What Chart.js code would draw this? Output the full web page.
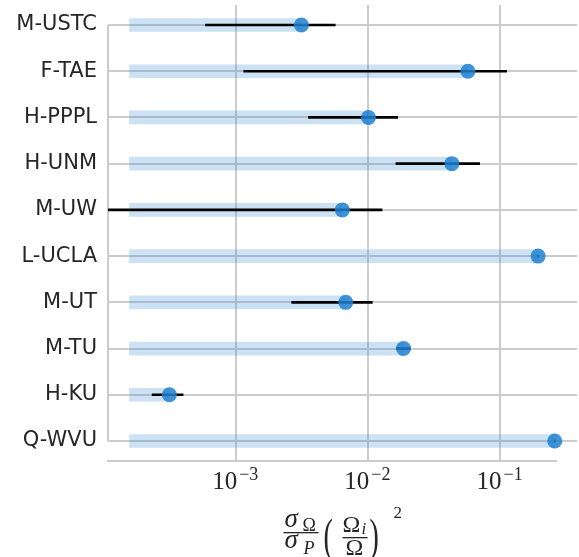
<!DOCTYPE html>
<html>
<head>
<meta charset="utf-8">
<script src="https://cdn.jsdelivr.net/npm/chart.js@4.4.0/dist/chart.umd.min.js"></script>
<style>
    body { margin: 0; background: #fff; }
    #wrap { width: 579px; height: 557px; }
</style>
</head>
<body>
<div id="wrap"><canvas id="chart" width="579" height="557"></canvas></div>
<script>
// Data
const categories = ['M-USTC', 'F-TAE', 'H-PPPL', 'H-UNM', 'M-UW', 'L-UCLA', 'M-UT', 'M-TU', 'H-KU', 'Q-WVU'];
const values  = [3.14e-3, 0.0571, 0.0101, 0.0432, 6.4e-3, 0.194, 6.8e-3, 0.0186, 3.15e-4, 0.259];
const errLow  = [5.9e-4, 1.15e-3, 3.55e-3, 0.0163, 1e-5, 0.192, 2.65e-3, 0.0164, 2.33e-4, 0.257];
const errHigh = [5.66e-3, 0.112, 0.0168, 0.070, 0.0128, 0.196, 0.0108, 0.0209, 4.0e-4, 0.261];
const barBase = 1.57e-4;
const xTicks = [1e-3, 1e-2, 1e-1];
const xTickExponents = ['\u22123', '\u22122', '\u22121'];

const TEXT = '#262626';
const GRID = '#cccccc';

// Draws the trimmed seaborn-style spines
const spinePlugin = {
    id: 'spines',
    beforeDatasetsDraw(chart) {
        const { ctx, scales: { x, y }, chartArea } = chart;
        ctx.save();
        ctx.strokeStyle = GRID;
        ctx.lineWidth = 2;
        ctx.beginPath();
        ctx.moveTo(chartArea.left, y.getPixelForValue(0));
        ctx.lineTo(chartArea.left, y.getPixelForValue(categories.length - 1));
        ctx.moveTo(x.getPixelForValue(1.08e-4) - 1, chartArea.bottom);
        ctx.lineTo(x.getPixelForValue(0.27), chartArea.bottom);
        ctx.stroke();
        ctx.restore();
    }
};

// Tick labels 10^n and the math axis title
const labelPlugin = {
    id: 'mathLabels',
    afterDraw(chart) {
        const { ctx, scales: { x }, chartArea } = chart;
        ctx.save();
        ctx.fillStyle = TEXT;
        ctx.textBaseline = 'alphabetic';
        ctx.textAlign = 'left';

        xTicks.forEach((t, i) => {
            const px = x.getPixelForValue(t);
            ctx.font = '25px "Liberation Serif"';
            const wBase = ctx.measureText('10').width;
            ctx.font = '18px "Liberation Serif"';
            const wExp = ctx.measureText(xTickExponents[i]).width + 3;
            const left = px - (wBase + wExp) / 2;
            ctx.font = '25px "Liberation Serif"';
            ctx.fillText('10', left, 489);
            ctx.font = '18px "Liberation Serif"';
            ctx.fillText(xTickExponents[i], left + wBase + 2, 480);
        });

        // sigma_Omega / sigma_P (Omega_i / Omega)^2
        const cx = (chartArea.left + chartArea.right) / 2;
        const x0 = cx - 59;
        ctx.font = 'italic 27px "Liberation Serif"';
        ctx.fillText('\u03c3', x0 + 1, 527);
        ctx.fillText('\u03c3', x0 + 1, 548);
        ctx.font = '18px "Liberation Serif"';
        ctx.fillText('\u03a9', x0 + 19, 531);
        ctx.font = 'italic 18px "Liberation Serif"';
        ctx.fillText('P', x0 + 20, 554);
        ctx.fillRect(x0, 532, 35, 1.3);

        ctx.save();
        ctx.font = '28px "Liberation Serif"';
        ctx.scale(1, 1.65);
        ctx.fillText('(', x0 + 40, 551 / 1.65);
        ctx.fillText(')', x0 + 86, 551 / 1.65);
        ctx.restore();

        ctx.font = '24px "Liberation Serif"';
        ctx.fillText('\u03a9', x0 + 59, 532);
        ctx.fillText('\u03a9', x0 + 62, 555);
        ctx.font = 'italic 17px "Liberation Serif"';
        ctx.fillText('i', x0 + 78, 534);
        ctx.fillRect(x0 + 59, 537, 25, 1.3);

        ctx.font = '17px "Liberation Serif"';
        ctx.fillText('2', x0 + 110, 518);
        ctx.restore();
    }
};

const ctx = document.getElementById('chart');

new Chart(ctx, {
    data: {
        datasets: [
            {
                type: 'scatter',
                data: values.map((v, i) => ({ x: v, y: i })),
                backgroundColor: 'rgba(31, 128, 208, 0.85)',
                borderWidth: 0,
                pointRadius: 7.5,
                pointHoverRadius: 7.5,
                order: 1
            },
            {
                type: 'bar',
                data: errLow.map((lo, i) => ({ x: [lo, errHigh[i]], y: i })),
                backgroundColor: '#000000',
                barThickness: 2,
                grouped: false,
                order: 2
            },
            {
                type: 'bar',
                data: values.map((v, i) => ({ x: [barBase, v], y: i })),
                backgroundColor: 'rgba(52, 138, 210, 0.25)',
                barThickness: 13,
                grouped: false,
                order: 3
            }
        ]
    },
    options: {
        indexAxis: 'y',
        responsive: false,
        animation: false,
        events: [],
        layout: { autoPadding: false, padding: { top: 5, right: 2, bottom: 0, left: 0 } },
        plugins: {
            legend: { display: false },
            tooltip: { enabled: false }
        },
        scales: {
            x: {
                type: 'logarithmic',
                position: 'bottom',
                min: 1.08e-4,
                max: 0.382,
                afterBuildTicks: scale => {
                    scale.ticks = xTicks.map(v => ({ value: v }));
                },
                afterFit: scale => {
                    scale.height = 96;
                    scale.paddingLeft = 0;
                    scale.paddingRight = 0;
                },
                ticks: { display: false },
                grid: { color: GRID, lineWidth: 2, drawTicks: false, offset: false },
                border: { display: false }
            },
            y: {
                type: 'linear',
                reverse: true,
                offset: false,
                min: -0.433,
                max: categories.length - 1 + 0.433,
                afterBuildTicks: scale => {
                    scale.ticks = categories.map((c, i) => ({ value: i }));
                },
                afterFit: scale => {
                    scale.width = 108;
                    scale.paddingTop = 0;
                    scale.paddingBottom = 0;
                },
                ticks: {
                    padding: 11,
                    color: TEXT,
                    font: { family: '"DejaVu Sans"', size: 21 },
                    callback: value => categories[value]
                },
                grid: { color: GRID, lineWidth: 2, drawTicks: false, offset: false },
                border: { display: false }
            }
        }
    },
    plugins: [spinePlugin, labelPlugin]
});
</script>
</body>
</html>
